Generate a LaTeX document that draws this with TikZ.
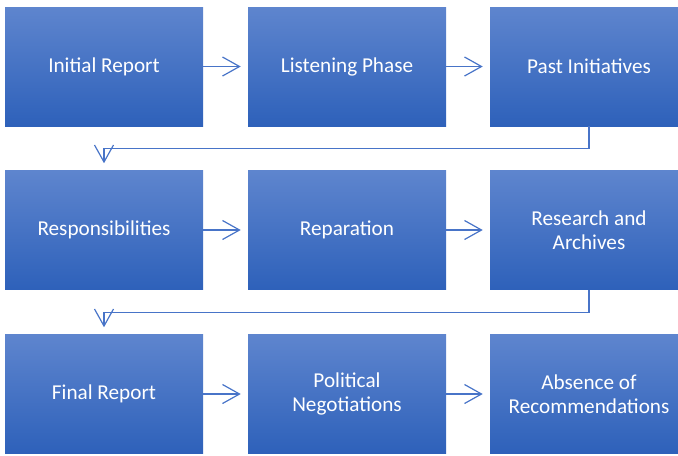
\documentclass[tikz,border=0pt]{standalone}
\usepackage{fontspec}
\setmainfont{Carlito}
\usetikzlibrary{arrows.meta}
\definecolor{boxtop}{RGB}{94,133,206}
\definecolor{boxbot}{RGB}{46,97,186}
\definecolor{linec}{RGB}{72,116,200}
\begin{document}
\begin{tikzpicture}[x=0.75pt,y=-0.75pt,
  stepbox/.style={rectangle, minimum width=148.5pt, minimum height=89.25pt,
    inner sep=0pt, top color=boxtop, bottom color=boxbot, draw=none,
    text=white, align=center, font=\fontsize{15.9}{18}\selectfont},
  conn/.style={draw=linec, line width=0.9pt,
    -{Straight Barb[length=12.75pt,width=14.25pt,line width=0.9pt]},
    shorten >=5.25pt}]
\useasboundingbox (0,0) rectangle (678,455);
\clip (0,0) rectangle (678,455);
\node[stepbox] (a1) at (104,66.5) {Initial Report};
\node[stepbox] (a2) at (347,66.5) {Listening Phase};
\node[stepbox] (a3) at (589,66.5) {Past Initiatives};
\node[stepbox] (b1) at (104,230) {Responsibilities};
\node[stepbox] (b2) at (347,230) {Reparation};
\node[stepbox] (b3) at (589,230) {Research and\\Archives};
\node[stepbox] (c1) at (104,394) {Final Report};
\node[stepbox] (c2) at (347,394) {Political\\Negotiations};
\node[stepbox] (c3) at (589,394) {Absence of\\Recommendations};
\draw[conn] (a1) -- (a2);
\draw[conn] (a2) -- (a3);
\draw[conn] (b1) -- (b2);
\draw[conn] (b2) -- (b3);
\draw[conn] (c1) -- (c2);
\draw[conn] (c2) -- (c3);
\coordinate (k1) at (589,148.5);
\coordinate (k2) at (589,312.5);
\draw[conn] (a3.south) -- (k1) -| (b1.north);
\draw[conn] (b3.south) -- (k2) -| (c1.north);
\end{tikzpicture}
\end{document}
